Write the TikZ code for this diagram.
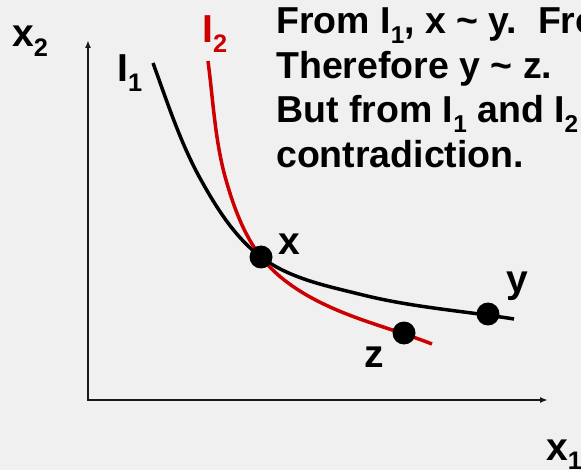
\documentclass[tikz,border=0pt]{standalone}
\usepackage{fontspec}
\setmainfont{Liberation Sans}
\usepackage{tikz}
\usetikzlibrary{positioning,arrows.meta}
\usepackage{xcolor}
\definecolor{bggray}{HTML}{F0F0F0}
\definecolor{icred}{HTML}{CC0000}
\newcommand{\lowsub}[1]{\raisebox{-0.25em}{\scalebox{0.65}{#1}}}

\begin{document}
\begin{tikzpicture}[x=1pt,y=-1pt,>={Latex[length=8pt,width=6pt]},
  lbl/.style={font=\fontsize{39}{39}\selectfont\bfseries,inner sep=0pt,anchor=base west},
  txt/.style={font=\fontsize{37.5}{44}\selectfont\bfseries,inner sep=0pt,anchor=base west},
  dot/.style={circle,fill=black,inner sep=0pt,minimum size=23pt},
  icurve/.style={line width=3.5pt,line cap=butt}]
\clip (0,0) rectangle (581,470);
\fill[bggray] (0,0) rectangle (581,470);
% axes
\coordinate (ytop) at (88,40);
\coordinate (orig) at (88,400);
\coordinate (xend) at (548,400);
\draw[<->,line width=1.6pt,black!90] (ytop) -- (orig) -- (xend);
\node[lbl] (x2) at (12,47) {x\lowsub{2}};
\node[lbl] (x1) at (546,460) {x\lowsub{1}};
% indifference curves
\coordinate (px) at (261,257);
\coordinate (py) at (488,314);
\coordinate (pz) at (404,333);
\draw[icurve] (153,63) .. controls (167.4,102.5) and (180.5,143.3) .. (201,180)
  .. controls (216.8,208.4) and (235,237.4) .. (px)
  .. controls (290,278.9) and (327.8,286.2) .. (363,295)
  .. controls (412.5,307.3) and (463.6,311) .. (514,319);
\draw[icurve,icred] (208,61) .. controls (213.2,100.7) and (215,141.6) .. (226,180)
  .. controls (233.7,206.9) and (243.8,234.9) .. (px)
  .. controls (278.5,279.4) and (304.1,295.3) .. (330,307)
  .. controls (363,322) and (398.3,330.8) .. (432,344);
\node[dot] (x) at (px) {};
\node[dot] (y) at (py) {};
\node[dot] (z) at (pz) {};
\node[lbl] (I1) at (117,82) {I\lowsub{1}};
\node[lbl,icred] (I2) at (202,43) {I\lowsub{2}};
\node[lbl] (xl) at (278,255) {x};
\node[lbl] (yl) at (506,293) {y};
\node[lbl] (zl) at (364,367) {z};
% argument text
\node[txt] (line1) at (276,34) {From I\lowsub{1}, x \textasciitilde\ y.\ \ From};
\node[txt] (line2) at (276,79) {Therefore y \textasciitilde\ z.};
\node[txt] (line3) at (276,123) {But from I\lowsub{1} and I\lowsub{2}};
\node[txt] (line4) at (276,168) {contradiction.};
\end{tikzpicture}
\end{document}
